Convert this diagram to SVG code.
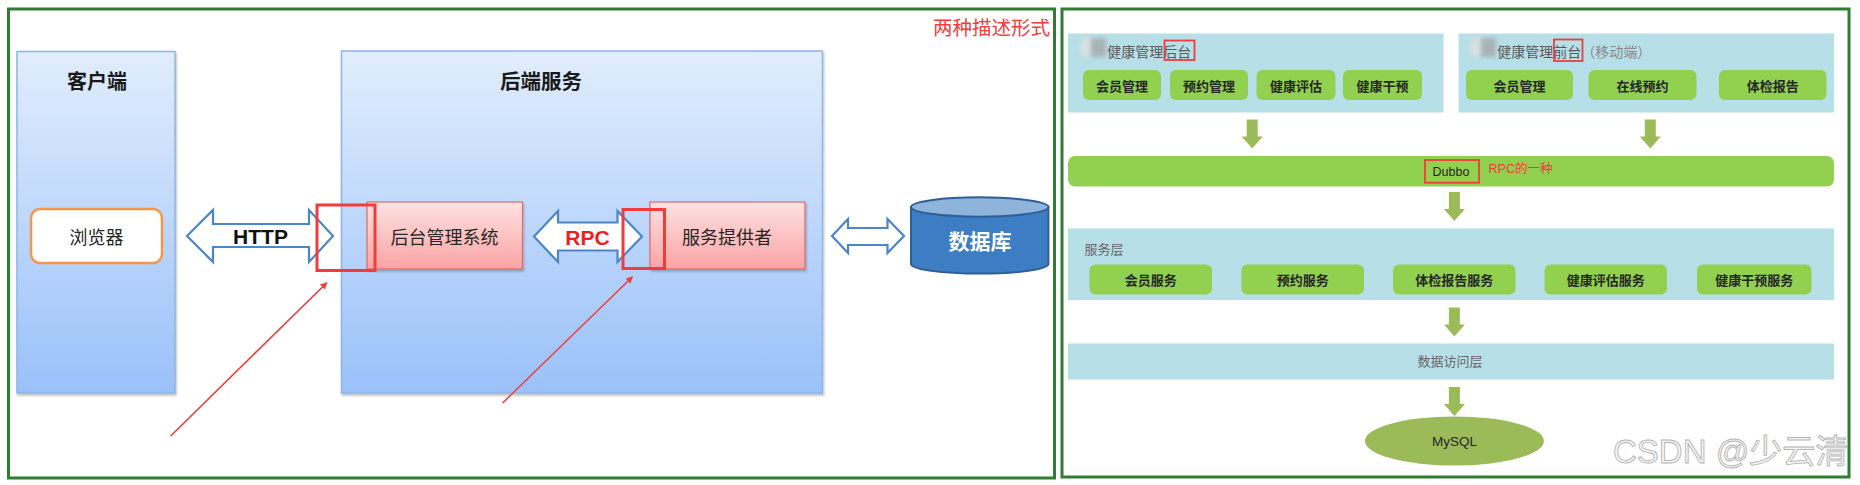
<svg xmlns="http://www.w3.org/2000/svg" width="1860" height="485" viewBox="0 0 1860 485">
<style>
.frame{fill:none;stroke:#2e7d32;stroke-width:3}
.bluebox{fill:url(#gBlue);stroke:#8fb4e2;stroke-width:1.5}
.pinkbox{fill:url(#gPink);stroke:#e06a6a;stroke-width:1.2}
.redmark{fill:none;stroke:#f23c3c;stroke-width:3}
.redthin{fill:none;stroke:#f23c3c;stroke-width:1.6}
.blockarrow{fill:#fff;stroke:#4a86c8;stroke-width:2.2;stroke-linejoin:miter}
.cn{font-family:"Noto Sans CJK SC","Liberation Sans",sans-serif}
.lat{font-family:"Liberation Sans","Noto Sans CJK SC",sans-serif}
.panel{fill:#b7dfe7}
.btn{fill:#92d050}
.btntxt{font-family:"Noto Sans CJK SC",sans-serif;font-size:13px;font-weight:bold;fill:#262626;text-anchor:middle;dominant-baseline:central}
.title{font-family:"Noto Sans CJK SC",sans-serif;font-size:14px;fill:#5a5a5a;dominant-baseline:central}
.garrow{fill:#9bbb59}
</style>
<defs>
<linearGradient id="gBlue" x1="0" y1="0" x2="0" y2="1">
<stop offset="0" stop-color="#e1edfd"/>
<stop offset="1" stop-color="#9ac1f9"/>
</linearGradient>
<linearGradient id="gPink" x1="0" y1="0" x2="0" y2="1">
<stop offset="0" stop-color="#fee2e2"/>
<stop offset="1" stop-color="#faa3a3"/>
</linearGradient>
<filter id="shadow" x="-5%" y="-5%" width="110%" height="115%">
<feDropShadow dx="1" dy="2" stdDeviation="1.2" flood-color="#000" flood-opacity="0.25"/>
</filter>
<filter id="blur" x="-50%" y="-50%" width="200%" height="200%">
<feGaussianBlur stdDeviation="2.2"/>
</filter>
<marker id="redHead" viewBox="0 0 10 10" refX="9" refY="5" markerWidth="7" markerHeight="7" markerUnits="userSpaceOnUse" orient="auto">
<path d="M0,0 L10,5 L0,10 z" fill="#f23c3c"/>
</marker>
<path id="downArrow" d="M-5.5,0 H5.5 V17 H10.5 L0,29 L-10.5,17 H-5.5 Z"/>
</defs>

<rect width="1860" height="485" fill="#fff"/>

<g id="frames">
<rect class="frame" x="8.5" y="9" width="1046" height="469"/>
<rect class="frame" x="1062" y="9" width="787" height="468"/>
</g>

<!-- LEFT DIAGRAM -->
<g id="note-title">
<text class="cn" x="1050" y="26" font-size="19.5" fill="#f23c3c" text-anchor="end" dominant-baseline="central">两种描述形式</text>
</g>

<g id="client">
<rect class="bluebox" x="17" y="51.5" width="158" height="341.5" filter="url(#shadow)"/>
<text class="cn" x="97" y="80" font-size="20" font-weight="bold" fill="#1a1a1a" text-anchor="middle" dominant-baseline="central">客户端</text>
</g>

<g id="browser">
<rect x="31" y="209" width="131" height="54" rx="9" fill="#fff" stroke="#f79646" stroke-width="2.5"/>
<text class="cn" x="96.5" y="236" font-size="18" fill="#262626" text-anchor="middle" dominant-baseline="central">浏览器</text>
</g>

<g id="backend">
<rect class="bluebox" x="341.5" y="51" width="481" height="342" filter="url(#shadow)"/>
<text class="cn" x="541" y="80" font-size="20.5" font-weight="bold" fill="#1a1a1a" text-anchor="middle" dominant-baseline="central">后端服务</text>
</g>

<g id="admin-system">
<rect class="pinkbox" x="367" y="202" width="155.5" height="67" filter="url(#shadow)"/>
<text class="cn" x="444.5" y="236" font-size="18" fill="#262626" text-anchor="middle" dominant-baseline="central">后台管理系统</text>
</g>

<g id="provider">
<rect class="pinkbox" x="650" y="202" width="155" height="67" filter="url(#shadow)"/>
<text class="cn" x="727" y="236" font-size="18" fill="#262626" text-anchor="middle" dominant-baseline="central">服务提供者</text>
</g>

<g id="database">
<path d="M911,207 V264 A68.7,9.6 0 0 0 1048.4,264 V207 Z" fill="#3d7dc3" stroke="#2f5f95" stroke-width="2"/>
<ellipse cx="979.7" cy="207" rx="68.7" ry="9.7" fill="#8fb4dc" stroke="#2f5f95" stroke-width="2"/>
<text class="cn" x="980" y="240" font-size="21" font-weight="bold" fill="#ffffff" text-anchor="middle" dominant-baseline="central">数据库</text>
</g>

<g id="connectors-left">
<path class="blockarrow" d="M187,236 L213,210 V224 H309 V210 L333,236 L309,262 V247 H213 V262 Z"/>
<text class="lat" x="260.5" y="236" font-size="21" font-weight="bold" fill="#111" text-anchor="middle" dominant-baseline="central">HTTP</text>
<path class="blockarrow" d="M534,236.5 L558,211 V222.5 H617.5 V211 L642,236.5 L617.5,262 V250.5 H558 V262 Z"/>
<text class="lat" x="587.5" y="237" font-size="21" font-weight="bold" fill="#f01e1e" text-anchor="middle" dominant-baseline="central">RPC</text>
<path class="blockarrow" d="M832,236 L848,219 V228 H887.5 V219 L904,236 L887.5,253 V245 H848 V253 Z"/>
<line class="redthin" x1="170.7" y1="436" x2="326.8" y2="282.7" marker-end="url(#redHead)"/>
<line class="redthin" x1="502.6" y1="403" x2="632.5" y2="276.7" marker-end="url(#redHead)"/>
</g>

<g id="highlights-left">
<rect class="redmark" x="317" y="205" width="58" height="65.5"/>
<rect class="redmark" x="623" y="209.5" width="41.5" height="59"/>
</g>

<!-- RIGHT DIAGRAM -->
<g id="backoffice">
<rect class="panel" x="1068" y="33.5" width="375.5" height="79"/>
<rect x="1080" y="37" width="14" height="20" rx="7" fill="#d8e0e3" filter="url(#blur)"/>
<rect x="1091" y="38" width="15" height="19" fill="#a9b3b7" filter="url(#blur)"/>
<text class="title" x="1107.3" y="50.5">健康管理后台</text>
<rect x="1164.5" y="40.5" width="30" height="19.5" fill="none" stroke="#f23c3c" stroke-width="1.8"/>
<rect class="btn" x="1083" y="70" width="78" height="30" rx="6"/>
<text class="btntxt" x="1122" y="85">会员管理</text>
<rect class="btn" x="1170" y="70" width="78" height="30" rx="6"/>
<text class="btntxt" x="1209" y="85">预约管理</text>
<rect class="btn" x="1256.5" y="70" width="79" height="30" rx="6"/>
<text class="btntxt" x="1296" y="85">健康评估</text>
<rect class="btn" x="1343" y="70" width="79" height="30" rx="6"/>
<text class="btntxt" x="1382.5" y="85">健康干预</text>
</g>

<g id="frontoffice">
<rect class="panel" x="1458.5" y="33.5" width="375.5" height="79"/>
<rect x="1470" y="37" width="14" height="20" rx="7" fill="#d8e0e3" filter="url(#blur)"/>
<rect x="1481" y="38" width="15" height="19" fill="#a9b3b7" filter="url(#blur)"/>
<text class="title" x="1497.3" y="50.5">健康管理前台<tspan fill="#8a8a8a">（移动端）</tspan></text>
<rect x="1554" y="39.5" width="28.5" height="21.5" fill="none" stroke="#f23c3c" stroke-width="1.8"/>
<rect class="btn" x="1466" y="70" width="107" height="30" rx="6"/>
<text class="btntxt" x="1519.5" y="85">会员管理</text>
<rect class="btn" x="1588.5" y="70" width="108" height="30" rx="6"/>
<text class="btntxt" x="1642.5" y="85">在线预约</text>
<rect class="btn" x="1719" y="70" width="107.5" height="30" rx="6"/>
<text class="btntxt" x="1772.7" y="85">体检报告</text>
</g>

<g id="dubbo">
<rect class="btn" x="1068" y="156" width="766" height="30.5" rx="7"/>
<text class="lat" x="1451" y="172" font-size="12.5" fill="#262626" text-anchor="middle" dominant-baseline="central">Dubbo</text>
<rect x="1425" y="160" width="54" height="22.7" fill="none" stroke="#f23c3c" stroke-width="1.8"/>
<text class="lat" x="1488.6" y="169" font-size="12.5" fill="#f23c3c" dominant-baseline="central">RPC的一种</text>
</g>

<g id="service-layer">
<rect class="panel" x="1068" y="228.5" width="766" height="71.5"/>
<text class="cn" x="1084.5" y="248.5" font-size="13" fill="#666" dominant-baseline="central">服务层</text>
<rect class="btn" x="1089.5" y="264.5" width="122.5" height="30" rx="6"/>
<text class="btntxt" x="1150.7" y="279.5">会员服务</text>
<rect class="btn" x="1241.5" y="264.5" width="122.5" height="30" rx="6"/>
<text class="btntxt" x="1302.7" y="279.5">预约服务</text>
<rect class="btn" x="1393" y="264.5" width="122.5" height="30" rx="6"/>
<text class="btntxt" x="1454.3" y="279.5">体检报告服务</text>
<rect class="btn" x="1544.5" y="264.5" width="122.5" height="30" rx="6"/>
<text class="btntxt" x="1605.8" y="279.5">健康评估服务</text>
<rect class="btn" x="1697" y="264.5" width="114.5" height="30" rx="6"/>
<text class="btntxt" x="1754.3" y="279.5">健康干预服务</text>
</g>

<g id="data-access">
<rect class="panel" x="1068" y="343.5" width="766" height="36"/>
<text class="cn" x="1450" y="360.5" font-size="13" fill="#666" text-anchor="middle" dominant-baseline="central">数据访问层</text>
</g>

<g id="mysql">
<ellipse cx="1454.4" cy="441" rx="89.5" ry="24.5" fill="#9bbb59"/>
<text class="lat" x="1454.4" y="441.5" font-size="13.5" fill="#262626" text-anchor="middle" dominant-baseline="central">MySQL</text>
</g>

<g id="connectors-right" class="garrow">
<use href="#downArrow" x="1252.2" y="119.5"/>
<use href="#downArrow" x="1650.3" y="119.5"/>
<use href="#downArrow" x="1454.4" y="192"/>
<use href="#downArrow" x="1454.4" y="307.5"/>
<use href="#downArrow" x="1454.4" y="387"/>
</g>

<g id="watermark">
<text class="lat" x="1613" y="463" font-size="33" fill="#f4f4f4" stroke="#b5b5b5" stroke-width="0.9">CSDN @少云清</text>
</g>
</svg>
